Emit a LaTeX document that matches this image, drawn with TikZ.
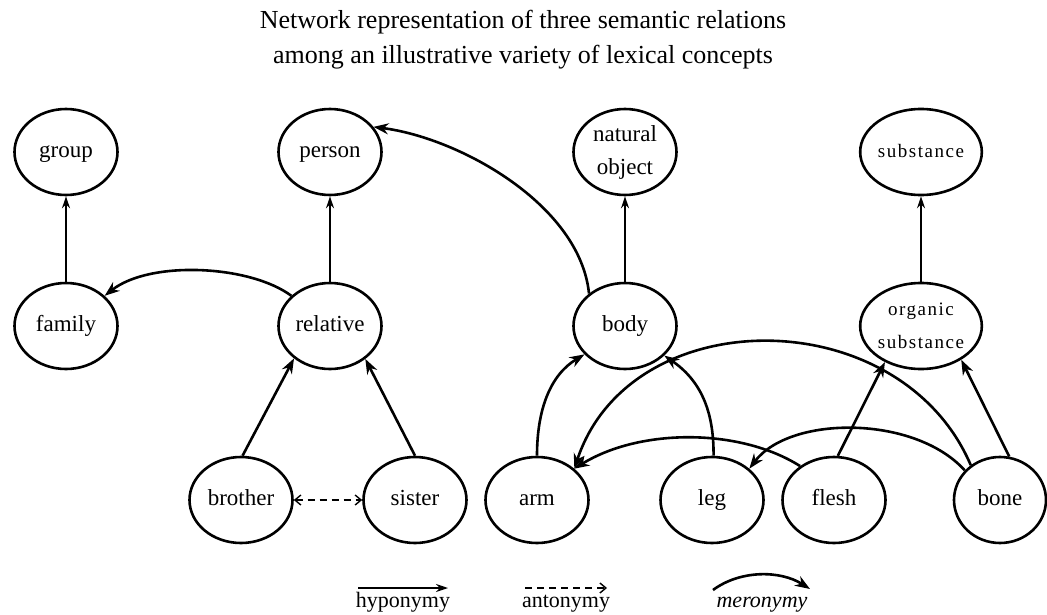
\documentclass[tikz,border=0pt]{standalone}
\usepackage{fontspec}
\setmainfont{Liberation Serif}
\usetikzlibrary{arrows.meta,shapes.geometric}

\begin{document}
\begin{tikzpicture}[x=1pt,y=-1pt,
  concept/.style={draw, ellipse, line width=2.6pt, minimum width=103pt,
    minimum height=86pt, inner sep=0pt, align=center,
    font=\fontsize{23}{33}\selectfont},
  oneline/.style={text height=15pt, text depth=4pt},
  small/.style={font=\fontsize{19}{33}\selectfont\addfontfeature{LetterSpace=8}},
  hypo/.style={line width=1.4pt, -{Stealth[length=12pt,width=8pt]}},
  mero/.style={line width=2.6pt, -{Stealth[length=15pt,width=11pt]}},
  anto/.style={line width=1.4pt, dash pattern=on 7pt off 5pt,
    {Straight Barb[length=6pt,width=10pt]}-{Straight Barb[length=6pt,width=10pt]}},
  legendtext/.style={font=\fontsize{22}{24}\selectfont, anchor=base}
]
\path[use as bounding box] (0,0) rectangle (1047,615);

% title
\node[align=center, font=\fontsize{26}{35}\selectfont] (title) at (523,40)
  {Network representation of three semantic relations\\
   among an illustrative variety of lexical concepts};

% concepts
\node[concept, oneline] (group)   at (66,152)  {group};
\node[concept, oneline] (person)  at (330,152) {person};
\node[concept] (natobj)  at (625,152) {natural\\object};
\node[concept, oneline, small] (subst) at (921,152) {substance};

\node[concept, oneline] (family)  at (66,326)  {family};
\node[concept, oneline] (relative) at (330,326) {relative};
\node[concept, oneline] (body)    at (625,326) {body};
\node[concept, small] (orgsub) at (921,326) {organic\\substance};

\node[concept, oneline] (brother) at (241,500) {brother};
\node[concept, oneline] (sister)  at (415,500) {sister};
\node[concept, oneline] (arm)     at (537,500) {arm};
\node[concept, oneline] (leg)     at (712,500) {leg};
\node[concept, oneline] (flesh)   at (834,500) {flesh};
\node[concept, oneline, minimum width=92pt] (bone) at (1000,500) {bone};

% hyponymy
\draw[hypo] (family) -- (group);
\draw[hypo] (relative) -- (person);
\draw[hypo] (body) -- (natobj);
\draw[hypo] (orgsub) -- (subst);

% antonymy
\draw[anto] (brother) -- (sister);

% meronymy
\draw[mero] (relative.142) .. controls (250,265) and (150,260) .. (family.38);
\draw[mero] (body.138) .. controls (580,205) and (460,138) .. (person.30);
\draw[mero] (brother.88) -- (relative.222);
\draw[mero] (sister.90) -- (relative.317);
\draw[mero] (arm.90) .. controls (537,410) and (550,375) .. (body.215);
\draw[mero] (leg.88) .. controls (714,410) and (700,380) .. (body.323);
\draw[mero] (bone.130) .. controls (900,300) and (630,300) .. (arm.40);
\draw[mero] (flesh.135) .. controls (740,428) and (640,428) .. (arm.40);
\draw[mero] (bone.140) .. controls (915,415) and (790,415) .. (leg.40);
\draw[mero] (flesh.85) -- (orgsub.225);
\draw[mero] (bone.78) -- (orgsub.320);

% legend
\coordinate (hypoA) at (358,588);
\coordinate (hypoB) at (448,588);
\coordinate (antoA) at (525,588);
\coordinate (antoB) at (607,588);
\coordinate (meroA) at (713,590);
\coordinate (meroB) at (810,589);
\draw[hypo] (hypoA) -- (hypoB);
\draw[line width=1.4pt, dash pattern=on 7pt off 5pt,
  -{Straight Barb[length=6pt,width=10pt]}] (antoA) -- (antoB);
\draw[mero] (meroA) .. controls (740,570) and (780,570) .. (meroB);
\node[legendtext] (hypolab) at (403,607) {hyponymy};
\node[legendtext] (antolab) at (566,607) {antonymy};
\node[legendtext] (merolab) at (762,607) {\itshape meronymy};
\end{tikzpicture}
\end{document}
